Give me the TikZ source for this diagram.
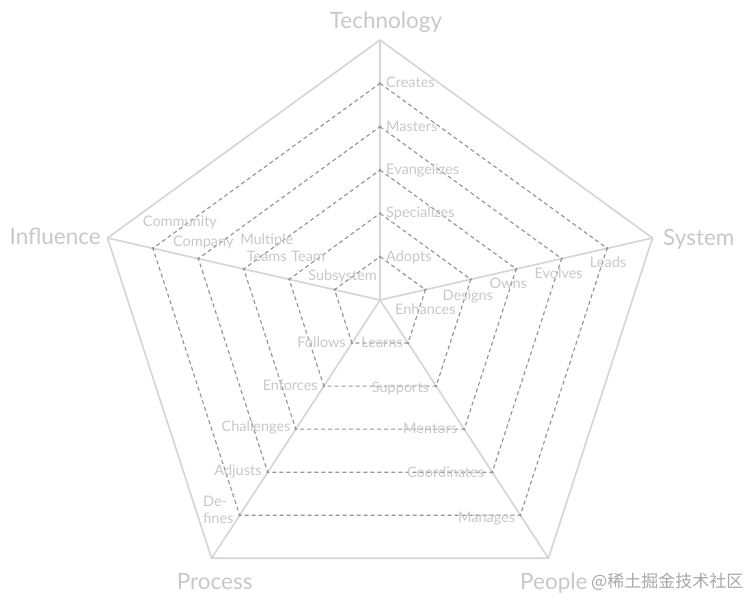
\documentclass[tikz,border=0pt]{standalone}
\usepackage{fontspec}
\setmainfont{Lato}
\newfontfamily\cjkfont{Noto Sans CJK SC}
\usepackage{tikz}
\usetikzlibrary{calc, positioning}

\definecolor{axisgray}{HTML}{D6D6D6}
\definecolor{ringgray}{HTML}{959595}
\definecolor{lblgray}{HTML}{C8C8C8}
\definecolor{markgray}{HTML}{A8A8A8}

\begin{document}
\begin{tikzpicture}[
      x=1pt, y=-1pt,
      axisline/.style={draw=axisgray, line width=1.7pt},
      ring/.style={draw=ringgray, line width=1.15pt, dash pattern=on 4pt off 3pt},
      tickmark/.style={circle, fill=ringgray, inner sep=0pt, minimum size=2.6pt},
      lbl/.style={font=\fontsize{14.5}{17}\selectfont, text=lblgray, inner sep=0pt, yshift=-3pt},
      axislbl/.style={font=\fontsize{22.5}{26}\selectfont, text=lblgray, inner sep=0pt, yshift=-1pt},
      wmark/.style={font=\cjkfont\fontsize{17}{20}\selectfont, text=markgray, inner sep=0pt}
    ]
      \useasboundingbox (0,0) rectangle (750,608);

      % Centre and outer corners
      \coordinate (c) at (380,300);
      \coordinate (tech) at (380,40);
      \coordinate (sys) at (652.5,238);
      \coordinate (peop) at (548.4,558.3);
      \coordinate (proc) at (211.6,558.3);
      \coordinate (infl) at (107.5,238);

      % Levels on each axis
      \foreach \ax in {tech,sys,peop,proc,infl} {
        \foreach \k in {1,...,5} {
          \coordinate (\ax\k) at ($(c)!\k/6!(\ax)$);
        }
      }

      % === FRAME ===
      \draw[axisline] (tech) -- (sys) -- (peop) -- (proc) -- (infl) -- cycle;
      \draw[axisline] (c) -- (tech);
      \draw[axisline] (c) -- (sys);
      \draw[axisline] (c) -- (peop);
      \draw[axisline] (c) -- (proc);
      \draw[axisline] (c) -- (infl);

      % === LEVEL RINGS ===
      \foreach \k in {1,...,5} {
        \draw[ring] (tech\k) -- (sys\k) -- (peop\k) -- (proc\k) -- (infl\k) -- cycle;
        \foreach \ax in {tech,sys,peop,proc,infl}
          \node[tickmark] at (\ax\k) {};
      }

      % Technology levels
      \node[lbl, anchor=mid west] (adopts) at ($(tech1)+(6,-1)$) {Adopts};
      \node[lbl, anchor=mid west] (special) at ($(tech2)+(6,-1)$) {Specializes};
      \node[lbl, anchor=mid west] (evang) at ($(tech3)+(6,-1)$) {Evangelizes};
      \node[lbl, anchor=mid west] (masters) at ($(tech4)+(6,-1)$) {Masters};
      \node[lbl, anchor=mid west] (creates) at ($(tech5)+(6,-1)$) {Creates};

      % System levels
      \node[lbl, anchor=mid] (enhances) at ($(sys1)+(0,19)$) {Enhances};
      \node[lbl, anchor=mid] (designs) at ($(sys2)+(-3,16)$) {Designs};
      \node[lbl, anchor=mid] (owns) at ($(sys3)+(-8,14)$) {Owns};
      \node[lbl, anchor=mid] (evolves) at ($(sys4)+(-3,14)$) {Evolves};
      \node[lbl, anchor=mid] (leads) at ($(sys5)+(1,14)$) {Leads};

      % People levels
      \node[lbl, anchor=mid east] (learns) at ($(peop1)+(-5,-1)$) {Learns};
      \node[lbl, anchor=mid east] (supports) at ($(peop2)+(-7,1)$) {Supports};
      \node[lbl, anchor=mid east] (mentors) at ($(peop3)+(-7,-1)$) {Mentors};
      \node[lbl, anchor=mid east] (coord) at ($(peop4)+(-8,0)$) {Coordinates};
      \node[lbl, anchor=mid east] (manages) at ($(peop5)+(-5,2)$) {Manages};

      % Process levels
      \node[lbl, anchor=mid east] (follows) at ($(proc1)+(-6,-1)$) {Follows};
      \node[lbl, anchor=mid east] (enforces) at ($(proc2)+(-6,-1)$) {Enforces};
      \node[lbl, anchor=mid east] (challenges) at ($(proc3)+(-5,-3)$) {Challenges};
      \node[lbl, anchor=mid east] (adjusts) at ($(proc4)+(-6,-2)$) {Adjusts};
      \node[lbl, anchor=east, align=left] (defines) at ($(proc5)+(-6,-8)$) {De-\\fines};

      % Influence levels
      \node[lbl, anchor=mid] (subsys) at ($(infl1)+(8,-15)$) {Subsystem};
      \node[lbl, anchor=mid] (team) at ($(infl2)+(19,-23)$) {Team};
      \node[lbl, align=center] (multi) at ($(infl3)+(23,-24)$) {Multiple\\Teams};
      \node[lbl, anchor=mid] (company) at ($(infl4)+(5,-18)$) {Company};
      \node[lbl, anchor=mid] (community) at ($(infl5)+(27,-27)$) {Community};

      % === AXIS NAMES ===
      \node[axislbl, anchor=base] (techlbl) at (386,27) {Technology};
      \node[axislbl, anchor=base west] (syslbl) at (663,244) {System};
      \node[axislbl, anchor=base east] (infllbl) at (101,243) {Influence};
      \node[axislbl, anchor=base] (proclbl) at (214.7,588) {Process};
      \node[axislbl, anchor=base west] (peoplbl) at (520,588) {People};
      \node[wmark, anchor=base west] (mark) at (591,587) {@稀土掘金技术社区};
    \end{tikzpicture}
\end{document}
